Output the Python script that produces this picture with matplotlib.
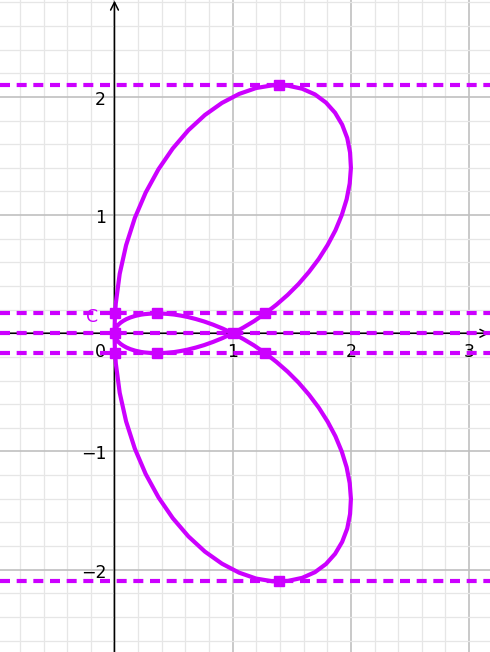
import matplotlib
matplotlib.use("Agg")
import matplotlib.pyplot as plt
import numpy as np

# big lobe, upper half: from the double point (1,0) round the top to the origin
lobe_x = [1.0, 1.089, 1.181, 1.275, 1.370, 1.465, 1.557, 1.645, 1.728, 1.803,
          1.869, 1.923, 1.964, 1.990, 2.000, 1.993, 1.969, 1.926, 1.866, 1.789,
          1.696, 1.588, 1.467, 1.336, 1.198, 1.054, 0.909, 0.765, 0.625, 0.493,
          0.372, 0.264, 0.172, 0.098, 0.044, 0.011, 0.003, 0.0]
lobe_y_top = [0.0, 0.048, 0.103, 0.168, 0.242, 0.325, 0.417, 0.519, 0.629, 0.747,
              0.871, 1.001, 1.134, 1.268, 1.400, 1.529, 1.652, 1.765, 1.866, 1.952,
              2.021, 2.069, 2.095, 2.098, 2.075, 2.025, 1.949, 1.847, 1.718, 1.564,
              1.388, 1.191, 0.976, 0.745, 0.503, 0.254, 0.127, 0.0]
lobe_y_bot = [0.0, -0.048, -0.103, -0.168, -0.242, -0.325, -0.417, -0.519, -0.629, -0.747,
              -0.871, -1.001, -1.134, -1.268, -1.400, -1.529, -1.652, -1.765, -1.866, -1.952,
              -2.021, -2.069, -2.095, -2.098, -2.075, -2.025, -1.949, -1.847, -1.718, -1.564,
              -1.388, -1.191, -0.976, -0.745, -0.503, -0.254, -0.127, 0.0]

# small loop: from (1,0) to the origin
loop_x = [1.0, 0.915, 0.834, 0.758, 0.687, 0.620, 0.559, 0.503, 0.451, 0.404,
          0.361, 0.322, 0.287, 0.254, 0.225, 0.175, 0.134, 0.101, 0.074, 0.052,
          0.035, 0.022, 0.012, 0.005, 0.001, 0.0]
loop_y_top = [0.0, 0.040, 0.073, 0.100, 0.121, 0.138, 0.150, 0.159, 0.164, 0.167,
              0.168, 0.168, 0.165, 0.162, 0.158, 0.147, 0.134, 0.120, 0.105, 0.090,
              0.075, 0.060, 0.045, 0.030, 0.015, 0.0]
loop_y_bot = [0.0, -0.040, -0.073, -0.100, -0.121, -0.138, -0.150, -0.159, -0.164, -0.167,
              -0.168, -0.168, -0.165, -0.162, -0.158, -0.147, -0.134, -0.120, -0.105, -0.090,
              -0.075, -0.060, -0.045, -0.030, -0.015, 0.0]

# dashed horizontal lines and marked points
hline_y = [2.098, 0.168, 0.0, -0.168, -2.098]
mark_x = [1.39, 1.39, 0.36, 0.36, 0.005, 0.005, 0.0, 1.0, 1.277, 1.277]
mark_y = [2.098, -2.098, 0.168, -0.168, 0.168, -0.168, 0.0, 0.0, 0.168, -0.168]

xticks = [0, 1, 2, 3]
yticks = [-2, -1, 1, 2]

col = '#cc00ff'
W, H = 490, 652
unit = 118.2
x0_px, y0_px = 114.5, 333.3

fig = plt.figure(figsize=(W/100, H/100), dpi=100)
ax = fig.add_axes([0, 0, 1, 1])
xmin, xmax = -x0_px/unit, (W - x0_px)/unit
ymin, ymax = -(H - y0_px)/unit, y0_px/unit
ax.set_xlim(xmin, xmax)
ax.set_ylim(ymin, ymax)
ax.axis('off')

# grid
for v in np.arange(-1.0, 3.21, 0.2):
    major = abs(v - round(v)) < 1e-6
    ax.axvline(v, color='#c0c0c0' if major else '#e6e6e6', lw=1.2 if major else 0.9, zorder=0)
for v in np.arange(-2.8, 2.81, 0.2):
    major = abs(v - round(v)) < 1e-6
    ax.axhline(v, color='#c0c0c0' if major else '#e6e6e6', lw=1.2 if major else 0.9, zorder=0)

# axes with arrows
ax.annotate('', xy=(0, ymax - 0.005), xytext=(0, ymin), zorder=1,
            arrowprops=dict(arrowstyle='->', lw=1.1, color='black', mutation_scale=14,
                            shrinkA=0, shrinkB=0))
ax.annotate('', xy=(xmax - 0.005, 0), xytext=(xmin, 0), zorder=1,
            arrowprops=dict(arrowstyle='->', lw=1.1, color='black', mutation_scale=14,
                            shrinkA=0, shrinkB=0))

for t in xticks:
    xp = -0.12 if t == 0 else t
    ax.text(xp, -0.16, str(t), ha='center', va='center', fontsize=12.5, zorder=2)
for t in yticks:
    ax.text(-0.07, t - 0.025, '\u2212' + str(abs(t)) if t < 0 else str(t),
            ha='right', va='center', fontsize=12.5, zorder=2)

for yv in hline_y:
    ax.axhline(yv, color=col, lw=3, linestyle=(0, (2.4, 1.6)), zorder=3)

cx = lobe_x + lobe_x[::-1] + loop_x + loop_x[::-1]
cy = lobe_y_top + lobe_y_bot[::-1] + loop_y_top + loop_y_bot[::-1]
ax.plot(cx, cy, color=col, lw=3, solid_joinstyle='round', zorder=4)

ax.plot(mark_x, mark_y, 's', color=col, markersize=7, zorder=5)

ax.text(-0.19, 0.135, 'C', color=col, fontsize=12.5, ha='center', va='center', zorder=5)

fig.savefig('out.png', dpi=100)
